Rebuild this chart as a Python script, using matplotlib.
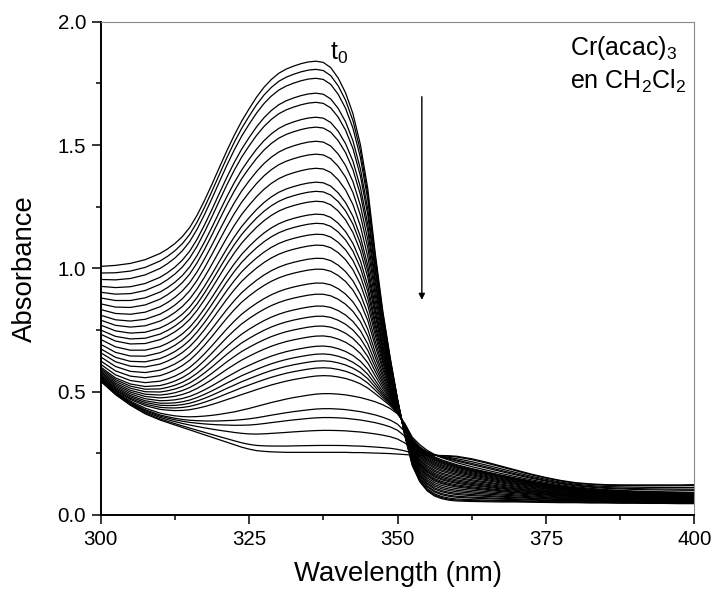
"""
Cr(acac)3 in CH2Cl2 - UV spectra recorded over time (absorbance vs wavelength).
"""
import numpy as np
import matplotlib
matplotlib.use("Agg")
import matplotlib.pyplot as plt

plt.rcParams["font.family"] = ["Liberation Sans", "DejaVu Sans"]
plt.rcParams["mathtext.fontset"] = "custom"
plt.rcParams["mathtext.rm"] = "Liberation Sans"
plt.rcParams["mathtext.it"] = "Liberation Sans:italic"

# wavelength grid (nm): 2.5 nm steps at the ends, 1.25 nm across the band
wavelength = np.r_[np.arange(300.0, 309.0, 2.5),
                   np.arange(310.0, 360.01, 1.25),
                   np.arange(362.5, 400.01, 2.5)]

# first spectrum (t0)
spec_t0 = [1.008, 1.012, 1.020, 1.035,
           1.060, 1.078, 1.100, 1.128, 1.165, 1.215, 1.275, 1.340, 1.408, 1.475,
           1.538, 1.595, 1.645, 1.692, 1.732, 1.764, 1.789, 1.806, 1.818, 1.828,
           1.835, 1.838, 1.833, 1.812, 1.770, 1.710, 1.625, 1.500, 1.320, 1.060,
           0.830, 0.640, 0.470, 0.320, 0.200, 0.135, 0.098, 0.077, 0.066, 0.060,
           0.057,
           0.055, 0.054, 0.053, 0.053, 0.052, 0.051, 0.050, 0.050, 0.049, 0.049,
           0.048, 0.048, 0.047, 0.047, 0.046, 0.046]

# intermediate spectrum where the isosbestic behaviour changes
spec_mid = [0.553, 0.500, 0.462, 0.433,
            0.413, 0.407, 0.402, 0.399, 0.398, 0.399, 0.401, 0.404, 0.408, 0.413,
            0.418, 0.425, 0.432, 0.440, 0.448, 0.456, 0.463, 0.470, 0.476, 0.481,
            0.486, 0.490, 0.492, 0.492, 0.490, 0.487, 0.482, 0.476, 0.468, 0.459,
            0.447, 0.432, 0.410, 0.370, 0.315, 0.285, 0.262, 0.245, 0.232, 0.222,
            0.212,
            0.196, 0.182, 0.168, 0.155, 0.143, 0.132, 0.122, 0.114, 0.108, 0.103,
            0.100, 0.097, 0.095, 0.094, 0.093, 0.092]

# last spectrum
spec_final = [0.542, 0.488, 0.445, 0.410,
              0.385, 0.375, 0.365, 0.355, 0.345, 0.335, 0.325, 0.315, 0.305, 0.295,
              0.285, 0.275, 0.267, 0.261, 0.258, 0.256, 0.255, 0.254, 0.254, 0.254,
              0.254, 0.254, 0.254, 0.254, 0.254, 0.254, 0.253, 0.253, 0.252, 0.251,
              0.250, 0.249, 0.247, 0.245, 0.243, 0.242, 0.242, 0.242, 0.241, 0.240,
              0.238,
              0.228, 0.214, 0.198, 0.182, 0.166, 0.152, 0.140, 0.131, 0.126, 0.123,
              0.122, 0.122, 0.122, 0.122, 0.122, 0.123]

# absorbance of every recorded spectrum at the band maximum (~337 nm)
peak_abs = [1.835, 1.802, 1.766, 1.706, 1.669, 1.609, 1.569, 1.512, 1.460, 1.403,
            1.347, 1.310, 1.270, 1.218, 1.181, 1.137, 1.093, 1.040, 0.996, 0.940,
            0.895, 0.847, 0.806, 0.766, 0.726, 0.685, 0.653, 0.625, 0.597, 0.565,
            0.492, 0.431, 0.395, 0.343, 0.282, 0.254]

# absorbance of every recorded spectrum at 300 nm
abs_300 = [1.008, 0.981, 0.955, 0.927, 0.903, 0.880, 0.856, 0.833, 0.810, 0.790,
           0.770, 0.750, 0.733, 0.712, 0.692, 0.674, 0.658, 0.641, 0.625, 0.611,
           0.600, 0.594, 0.588, 0.582, 0.577, 0.572, 0.567, 0.563, 0.559, 0.556,
           0.553, 0.550, 0.548, 0.546, 0.544, 0.542]

A0 = np.array(spec_t0)
Am = np.array(spec_mid)
Af = np.array(spec_final)
PEAK_IDX = int(np.argmin(np.abs(wavelength - 337.5)))
UV_IDX = 0


def position(value, idx):
    """place a reading on the final(0) -> mid(1) -> t0(2) path at grid index idx"""
    if value >= Am[idx]:
        return 1 + (value - Am[idx]) / (A0[idx] - Am[idx])
    return (value - Af[idx]) / (Am[idx] - Af[idx])


def spectrum(u):
    early = Am + (u - 1) * (A0 - Am)
    late = Af + u * (Am - Af)
    return np.where(u >= 1, early, late)


# UV side of each spectrum follows its 300 nm reading, band follows the peak
t = np.clip((wavelength - 300) / 25.0, 0, 1)
blend = 3 * t**2 - 2 * t**3

fig = plt.figure(figsize=(7.15, 5.92), dpi=100)
ax = fig.add_axes([0.1408, 0.1301, 0.8303, 0.8332])

for pk, uv in zip(peak_abs, abs_300):
    u_band = position(pk, PEAK_IDX)
    u_uv = position(uv, UV_IDX)
    u = u_uv + (u_band - u_uv) * blend
    ax.plot(wavelength, spectrum(u), color="black", linewidth=0.9)

ax.set_xlim(300, 400)
ax.set_ylim(0, 2.0)
ax.set_xticks([300, 325, 350, 375, 400])
ax.set_xticks([312.5, 337.5, 362.5, 387.5], minor=True)
ax.set_yticks([0.0, 0.5, 1.0, 1.5, 2.0])
ax.set_yticks([0.25, 0.75, 1.25, 1.75], minor=True)
ax.set_yticklabels(["0.0", "0.5", "1.0", "1.5", "2.0"])

ax.tick_params(which="major", direction="out", length=6.5, width=1.1,
               labelsize=14.8, pad=4, top=False, right=False)
ax.tick_params(which="minor", direction="out", length=3.8, width=1.1,
               top=False, right=False)
for side in ("left", "bottom"):
    ax.spines[side].set_linewidth(1.4)
for side in ("top", "right"):
    ax.spines[side].set_linewidth(0.8)
    ax.spines[side].set_color("#8a8a8a")

ax.set_xlabel("Wavelength (nm)", fontsize=19.8, labelpad=9)
ax.set_ylabel("Absorbance", fontsize=19.8, labelpad=14)

ax.text(338.6, 1.844, r"t$_\mathrm{0}$", fontsize=18, ha="left", va="baseline")
ax.text(379.1, 1.865, r"Cr(acac)$_\mathrm{3}$", fontsize=18, ha="left", va="baseline")
ax.text(379.1, 1.728, r"en CH$_\mathrm{2}$Cl$_\mathrm{2}$", fontsize=18,
        ha="left", va="baseline")

ax.annotate("", xy=(354.1, 0.872), xytext=(354.1, 1.696),
            arrowprops=dict(arrowstyle="-|>", color="black", lw=1.0,
                            mutation_scale=9, shrinkA=0, shrinkB=0))

fig.savefig("out.png", dpi=100)
